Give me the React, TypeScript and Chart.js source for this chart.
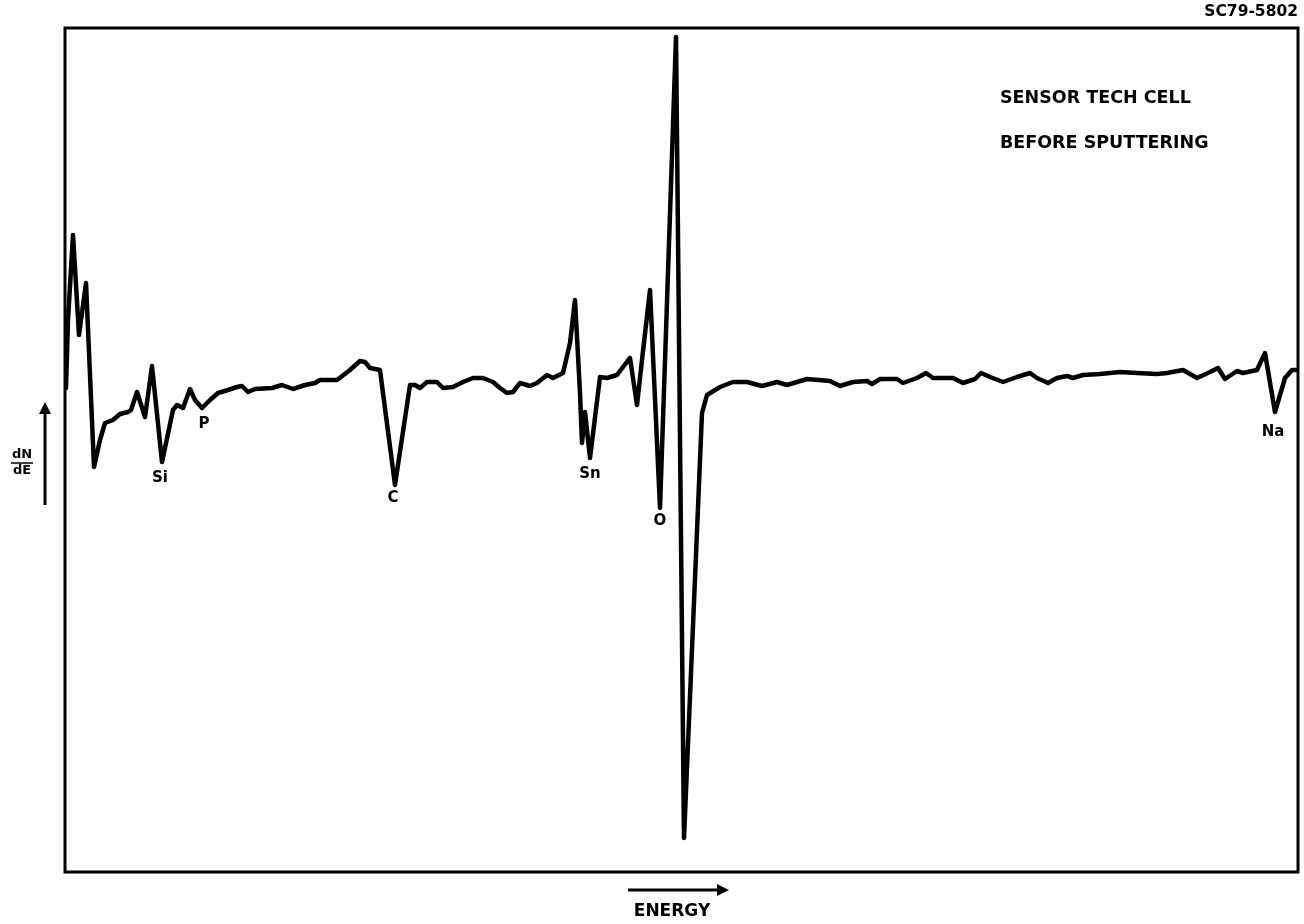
import React, { useEffect, useRef } from "react";
import { Chart, registerables } from "chart.js";

Chart.register(...registerables);

// Energy (arbitrary units) and dN/dE (arbitrary units)
const energy: number[] = [
  1, 3, 8, 14, 21, 29, 35, 40, 48, 55, 63, 66, 72, 80, 87, 97, 108, 112, 118, 125,
  130, 137, 145, 153, 163, 172, 177, 183, 190, 207, 217, 228, 240, 250, 255, 272, 285, 295, 300, 305,
  315, 330, 345, 350, 355, 362, 372, 378, 388, 398, 408, 418, 428, 435, 442, 448, 455, 465, 472, 482,
  488, 498, 505, 510, 515, 517, 520, 525, 535, 542, 552, 558, 565, 572, 577, 585, 595, 611, 619, 637,
  642, 655, 668, 682, 697, 712, 722, 742, 765, 775, 788, 802, 807, 815, 832, 838, 852, 861, 868, 888,
  898, 910, 916, 925, 938, 952, 965, 972, 983, 992, 1002, 1008, 1018, 1035, 1055, 1072, 1092, 1102, 1118, 1132,
  1145, 1153, 1160, 1172, 1178, 1192, 1200, 1210, 1220, 1227, 1232,
];
const dNdE: number[] = [
  62, 130, 215, 115, 167, -17, 10, 27, 30, 36, 38, 40, 58, 33, 84, -12, 40, 45, 42, 61,
  50, 42, 50, 57, 60, 63, 64, 58, 61, 62, 65, 61, 65, 67, 70, 70, 80, 89, 88, 82,
  80, -35, 65, 65, 62, 68, 68, 62, 63, 68, 72, 72, 68, 62, 57, 58, 67, 64, 67, 75,
  72, 77, 107, 150, 57, 7, 38, -8, 73, 72, 75, 83, 92, 45, 90, 160, -58, 413, -388, 37,
  55, 63, 68, 68, 64, 68, 65, 71, 69, 64, 68, 69, 66, 71, 71, 67, 72, 77, 72, 72,
  67, 71, 77, 73, 68, 73, 77, 72, 67, 72, 74, 72, 75, 76, 78, 77, 76, 77, 80, 72,
  78, 82, 71, 79, 77, 80, 97, 38, 72, 80, 80,
];

const peakNames: string[] = ["Si", "P", "C", "Sn", "O", "Na"];
const peakEnergy: number[] = [95, 139, 328, 525, 595, 1208];
const peakDepth: number[] = [-28, 26, -48, -24, -71, 18];

const titleLines: string[] = ["SENSOR TECH CELL", "BEFORE SPUTTERING"];
const figureId = "SC79-5802";
const yLabelTop = "dN";
const yLabelBottom = "dE";
const xLabel = "ENERGY";

const FONT = "'DejaVu Sans', 'Liberation Sans', Arial, sans-serif";

export default function App() {
  const canvasRef = useRef<HTMLCanvasElement | null>(null);

  useEffect(() => {
    if (!canvasRef.current) return;
    const annotate = {
      id: "annotate",
      afterDraw(chart: any) {
        const { ctx, chartArea: a, scales } = chart;
        const xs = scales.x;
        const ys = scales.y;
        ctx.save();
        // frame
        ctx.strokeStyle = "#000";
        ctx.lineWidth = 3;
        ctx.strokeRect(a.left, a.top, a.right - a.left, a.bottom - a.top);
        ctx.fillStyle = "#000";
        // peak labels
        ctx.font = `bold 15px ${FONT}`;
        ctx.textAlign = "center";
        ctx.textBaseline = "middle";
        peakNames.forEach((n, i) => {
          ctx.fillText(n, xs.getPixelForValue(peakEnergy[i]), ys.getPixelForValue(peakDepth[i]));
        });
        // title
        ctx.textAlign = "left";
        ctx.font = `bold 17.5px ${FONT}`;
        ctx.fillText(titleLines[0], a.left + 935, a.top + 70);
        ctx.fillText(titleLines[1], a.left + 935, a.top + 115);
        ctx.textAlign = "right";
        ctx.font = `bold 15.5px ${FONT}`;
        ctx.fillText(figureId, a.right, 12);
        // y label
        ctx.textAlign = "center";
        ctx.font = `bold 13px ${FONT}`;
        ctx.fillText(yLabelTop, 22, 455);
        ctx.fillText(yLabelBottom, 22, 471);
        ctx.lineWidth = 1.5;
        ctx.beginPath();
        ctx.moveTo(11, 463);
        ctx.lineTo(33, 463);
        ctx.stroke();
        // y arrow
        ctx.lineWidth = 3;
        ctx.beginPath();
        ctx.moveTo(45, 505);
        ctx.lineTo(45, 412);
        ctx.stroke();
        ctx.beginPath();
        ctx.moveTo(45, 402);
        ctx.lineTo(39, 414);
        ctx.lineTo(51, 414);
        ctx.closePath();
        ctx.fill();
        // x arrow
        ctx.beginPath();
        ctx.moveTo(628, 890);
        ctx.lineTo(718, 890);
        ctx.stroke();
        ctx.beginPath();
        ctx.moveTo(729, 890);
        ctx.lineTo(717, 884);
        ctx.lineTo(717, 896);
        ctx.closePath();
        ctx.fill();
        ctx.font = `bold 17px ${FONT}`;
        ctx.fillText(xLabel, 672, 912);
        ctx.restore();
      },
    };

    const chart = new Chart(canvasRef.current, {
      type: "line",
      data: {
        datasets: [
          {
            data: energy.map((e, i) => ({ x: e, y: dNdE[i] })),
            borderColor: "#000",
            borderWidth: 4.5,
            pointRadius: 0,
            tension: 0,
            borderJoinStyle: "round",
            borderCapStyle: "round",
          },
        ],
      },
      options: {
        animation: false,
        responsive: false,
        maintainAspectRatio: false,
        layout: { padding: { left: 65, right: 6, top: 28, bottom: 52 } },
        plugins: { legend: { display: false }, tooltip: { enabled: false } },
        scales: {
          x: { type: "linear", min: 0, max: 1233, display: false },
          y: { type: "linear", min: -422, max: 422, display: false },
        },
      },
      plugins: [annotate],
    });
    return () => chart.destroy();
  }, []);

  return (
    <div style={{ position: "absolute", left: 0, top: 0, width: 1304, height: 924, background: "#fff" }}>
      <canvas ref={canvasRef} width={1304} height={924} style={{ display: "block" }} />
    </div>
  );
}
